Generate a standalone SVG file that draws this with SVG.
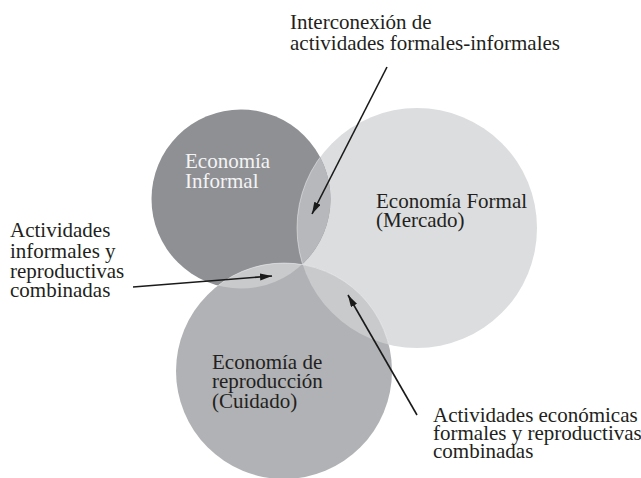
<svg xmlns="http://www.w3.org/2000/svg" width="641" height="478" viewBox="0 0 641 478">
  <style>
    text { font-family: "Liberation Serif", "Times New Roman", serif; font-size: 21px; }
    .dark { fill: #231f20; }
    .light { fill: #f4f4f4; }
    .edge { stroke: #ffffff; stroke-opacity: 0.55; stroke-width: 0.8; }
    .conn { stroke: #1a1a1a; stroke-width: 1.6; fill: none; }
  </style>
  <defs>
    <clipPath id="clipInformal"><circle cx="241" cy="199" r="89.5"/></clipPath>
    <clipPath id="clipFormal"><circle cx="417" cy="228" r="120"/></clipPath>
    <clipPath id="clipRepro"><circle cx="284" cy="371" r="108"/></clipPath>
    <marker id="arrow" markerUnits="userSpaceOnUse" markerWidth="13" markerHeight="8" refX="12" refY="3.5" orient="auto">
      <path d="M0,0 L12,3.5 L0,7 z" fill="#1a1a1a"/>
    </marker>
  </defs>
  <rect width="641" height="478" fill="#ffffff"/>

  <g id="formal">
    <circle cx="417" cy="228" r="120" fill="#dcdddf"/>
  </g>
  <g id="informal">
    <circle cx="241" cy="199" r="89.5" fill="#8f9094"/>
  </g>
  <g id="reproduccion">
    <circle cx="284" cy="371" r="108" fill="#b1b2b5"/>
  </g>

  <g id="overlaps">
    <circle cx="417" cy="228" r="120" fill="#b7b8bb" clip-path="url(#clipInformal)" class="edge"/>
    <circle cx="284" cy="371" r="108" fill="#c9cacc" clip-path="url(#clipInformal)" class="edge"/>
    <circle cx="284" cy="371" r="108" fill="#c9cacc" clip-path="url(#clipFormal)" class="edge"/>
  </g>

  <g id="labels-nodes">
    <g id="label-informal">
      <text class="light" x="185" y="168">Economía</text>
      <text class="light" x="185" y="188">Informal</text>
    </g>
    <g id="label-formal">
      <text class="dark" x="376" y="208">Economía Formal</text>
      <text class="dark" x="376" y="227">(Mercado)</text>
    </g>
    <g id="label-reproduccion">
      <text class="dark" x="212" y="369">Economía de</text>
      <text class="dark" x="212" y="388">reproducción</text>
      <text class="dark" x="212" y="408">(Cuidado)</text>
    </g>
  </g>

  <g id="annotations">
    <g id="note-formal-informal">
      <text class="dark" x="290" y="29">Interconexión de</text>
      <text class="dark" x="290" y="50">actividades formales-informales</text>
    </g>
    <g id="note-informal-repro">
      <text class="dark" x="10" y="237">Actividades</text>
      <text class="dark" x="10" y="258">informales y</text>
      <text class="dark" x="10" y="278">reproductivas</text>
      <text class="dark" x="10" y="297">combinadas</text>
    </g>
    <g id="note-formal-repro">
      <text class="dark" x="433" y="422">Actividades económicas</text>
      <text class="dark" x="433" y="440">formales y reproductivas</text>
      <text class="dark" x="433" y="458">combinadas</text>
    </g>
  </g>

  <g id="connectors">
    <line class="conn" x1="387" y1="67" x2="312" y2="214" marker-end="url(#arrow)"/>
    <line class="conn" x1="133" y1="287" x2="272" y2="276" marker-end="url(#arrow)"/>
    <line class="conn" x1="417" y1="415" x2="348" y2="295" marker-end="url(#arrow)"/>
  </g>
</svg>
